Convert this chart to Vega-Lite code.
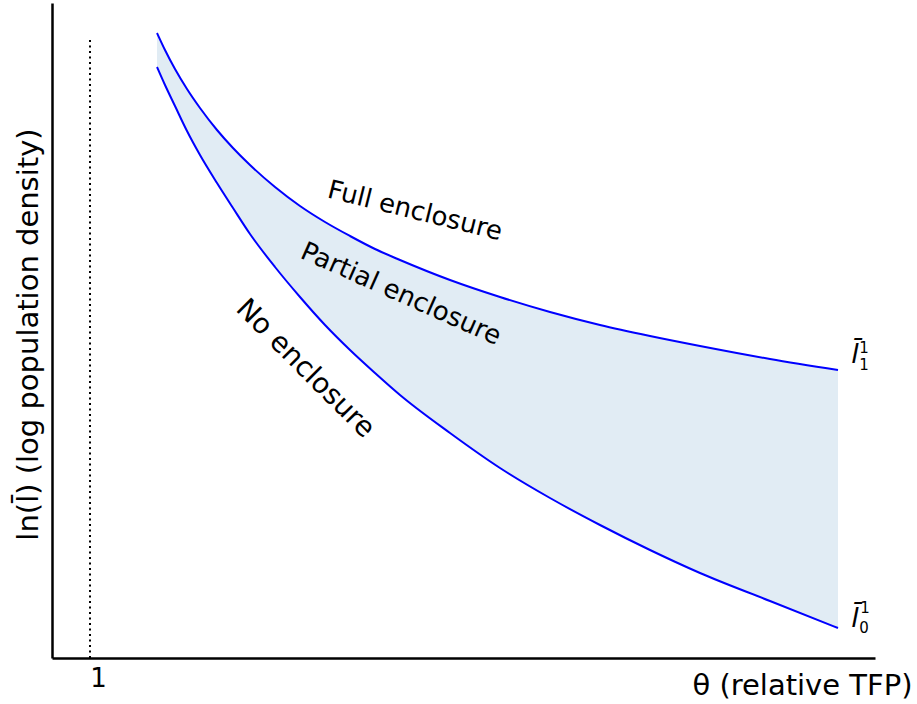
{
  "$schema": "https://vega.github.io/schema/vega-lite/v6.json",
  "autosize": "none",
  "width": 823,
  "height": 655,
  "padding": {"left": 52, "top": 3, "right": 42, "bottom": 46},
  "background": "white",
  "config": {
    "view": {"stroke": null},
    "font": "DejaVu Sans",
    "axis": {"grid": false, "domainColor": "black", "domainWidth": 2.5, "ticks": false, "labelColor": "black", "titleColor": "black", "titleFontWeight": "normal", "labelFont": "DejaVu Sans", "titleFont": "DejaVu Sans"}
  },
  "datasets": {
    "curves": [
      {"x": 105, "upper": 625, "lower": 591},
      {"x": 113, "upper": 608, "lower": 573},
      {"x": 123, "upper": 589, "lower": 552},
      {"x": 135, "upper": 569, "lower": 527},
      {"x": 148, "upper": 550, "lower": 503},
      {"x": 165, "upper": 528, "lower": 475},
      {"x": 181, "upper": 510, "lower": 450},
      {"x": 198, "upper": 493, "lower": 424},
      {"x": 223, "upper": 471, "lower": 391},
      {"x": 248, "upper": 452, "lower": 361},
      {"x": 273, "upper": 436, "lower": 333},
      {"x": 298, "upper": 422, "lower": 308},
      {"x": 323, "upper": 409, "lower": 285},
      {"x": 348, "upper": 398, "lower": 263},
      {"x": 398, "upper": 378, "lower": 225},
      {"x": 448, "upper": 361, "lower": 190},
      {"x": 498, "upper": 346, "lower": 160},
      {"x": 548, "upper": 333, "lower": 133},
      {"x": 598, "upper": 322, "lower": 108},
      {"x": 648, "upper": 312, "lower": 85},
      {"x": 718, "upper": 299, "lower": 57},
      {"x": 786, "upper": 288, "lower": 30}
    ],
    "vline": [{"x": 38, "y": 0, "y2": 618}],
    "labels": [
      {"key": "full", "label": "Full enclosure", "x": 363, "y": 447},
      {"key": "partial", "label": "Partial enclosure", "x": 349, "y": 364},
      {"key": "no", "label": "No enclosure", "x": 253, "y": 289},
      {"key": "lbar", "label": "l̄", "x": 803, "y": 295},
      {"key": "lbar", "label": "l̄", "x": 803, "y": 31},
      {"key": "sup", "label": "1", "x": 812, "y": 305},
      {"key": "sub", "label": "1", "x": 812, "y": 288},
      {"key": "sup", "label": "1", "x": 813, "y": 45},
      {"key": "sub", "label": "0", "x": 812, "y": 25}
    ]
  },
  "layer": [
    {
      "data": {"name": "curves"},
      "mark": {"type": "area", "color": "#e1ecf4", "opacity": 1, "interpolate": "monotone"},
      "encoding": {
        "x": {"field": "x", "type": "quantitative", "scale": {"domain": [0, 823], "nice": false, "zero": false},
          "axis": {"values": [46], "labelExpr": "'1'", "labelFontSize": 26, "labelPadding": 7, "title": "θ (relative TFP)", "titleFontSize": 29, "titleX": 860, "titleY": 36, "titleAlign": "right", "titleBaseline": "alphabetic"}},
        "y": {"field": "upper", "type": "quantitative", "scale": {"domain": [0, 655], "nice": false, "zero": false},
          "axis": {"labels": false, "title": "ln(l̄) (log population density)", "titleFontSize": 29, "titleX": -15, "titleY": 331, "titleAngle": 270, "titleAlign": "center", "titleBaseline": "alphabetic"}},
        "y2": {"field": "lower"}
      }
    },
    {
      "data": {"name": "curves"},
      "mark": {"type": "line", "color": "#0000ff", "strokeWidth": 2, "interpolate": "monotone"},
      "encoding": {
        "x": {"field": "x", "type": "quantitative"},
        "y": {"field": "upper", "type": "quantitative"}
      }
    },
    {
      "data": {"name": "curves"},
      "mark": {"type": "line", "color": "#0000ff", "strokeWidth": 2, "interpolate": "monotone"},
      "encoding": {
        "x": {"field": "x", "type": "quantitative"},
        "y": {"field": "lower", "type": "quantitative"}
      }
    },
    {
      "data": {"name": "vline"},
      "mark": {"type": "rule", "color": "black", "strokeWidth": 2, "strokeDash": [2, 3.5]},
      "encoding": {
        "x": {"field": "x", "type": "quantitative"},
        "y": {"field": "y", "type": "quantitative"},
        "y2": {"field": "y2"}
      }
    },
    {
      "data": {"name": "labels"},
      "transform": [{"filter": "datum.key === 'full'"}],
      "mark": {"type": "text", "fontSize": 26, "angle": 14, "align": "center", "baseline": "middle", "color": "black"},
      "encoding": {"x": {"field": "x", "type": "quantitative"}, "y": {"field": "y", "type": "quantitative"}, "text": {"field": "label"}}
    },
    {
      "data": {"name": "labels"},
      "transform": [{"filter": "datum.key === 'partial'"}],
      "mark": {"type": "text", "fontSize": 26, "angle": 24, "align": "center", "baseline": "middle", "color": "black"},
      "encoding": {"x": {"field": "x", "type": "quantitative"}, "y": {"field": "y", "type": "quantitative"}, "text": {"field": "label"}}
    },
    {
      "data": {"name": "labels"},
      "transform": [{"filter": "datum.key === 'no'"}],
      "mark": {"type": "text", "fontSize": 28, "angle": 45, "align": "center", "baseline": "middle", "color": "black"},
      "encoding": {"x": {"field": "x", "type": "quantitative"}, "y": {"field": "y", "type": "quantitative"}, "text": {"field": "label"}}
    },
    {
      "data": {"name": "labels"},
      "transform": [{"filter": "datum.key === 'lbar'"}],
      "mark": {"type": "text", "fontSize": 27, "fontStyle": "italic", "align": "center", "baseline": "alphabetic", "color": "black"},
      "encoding": {"x": {"field": "x", "type": "quantitative"}, "y": {"field": "y", "type": "quantitative"}, "text": {"field": "label"}}
    },
    {
      "data": {"name": "labels"},
      "transform": [{"filter": "datum.key === 'sup' || datum.key === 'sub'"}],
      "mark": {"type": "text", "fontSize": 15, "align": "center", "baseline": "alphabetic", "color": "black"},
      "encoding": {"x": {"field": "x", "type": "quantitative"}, "y": {"field": "y", "type": "quantitative"}, "text": {"field": "label"}}
    }
  ]
}
